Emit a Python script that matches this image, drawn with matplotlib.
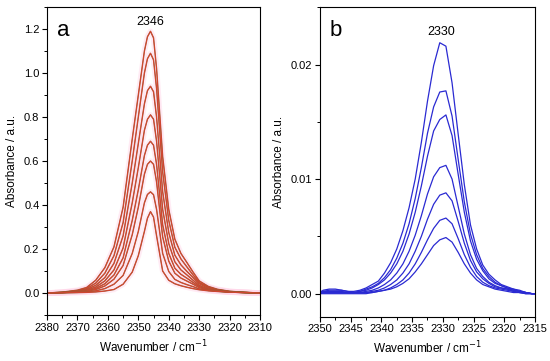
#!/usr/bin/env python3
"""CO2 stretch band spectra: (a) 2346 band, (b) 2330 band."""

import matplotlib
matplotlib.use("Agg")
import matplotlib.pyplot as plt
from matplotlib.ticker import MultipleLocator, FormatStrFormatter

plt.rcParams["font.family"] = ["Liberation Sans", "DejaVu Sans"]

# ---- panel a data ----
wn_a = [2380, 2375, 2370, 2367, 2364, 2361, 2358, 2355, 2352, 2350, 2348, 2347,
        2346, 2345, 2344, 2342, 2340, 2338, 2336, 2334, 2332, 2330, 2327, 2324,
        2320, 2315, 2310]
abs_a1 = [0, .004, .013, .025, .058, .115, .210, .390, .700, .900, 1.100, 1.165,
          1.190, 1.160, 1.020, .620, .380, .245, .180, .138, .095, .055, .030, .017,
          .008, .003, 0]
abs_a2 = [0, .003, .010, .020, .045, .090, .170, .320, .600, .800, 1.000, 1.065,
          1.090, 1.060, .930, .550, .330, .208, .155, .118, .082, .048, .026, .015,
          .007, .003, 0]
abs_a3 = [0, .003, .008, .016, .035, .070, .135, .260, .500, .680, .860, .920,
          .940, .915, .800, .460, .275, .172, .128, .098, .070, .042, .023, .013,
          .006, .002, 0]
abs_a4 = [0, .002, .007, .013, .027, .055, .105, .205, .410, .570, .740, .790,
          .810, .790, .690, .380, .225, .142, .105, .082, .058, .035, .019, .011,
          .005, .002, 0]
abs_a5 = [0, .002, .006, .010, .021, .042, .082, .160, .330, .470, .625, .672,
          .690, .672, .585, .310, .180, .113, .085, .067, .048, .030, .016, .010,
          .005, .002, 0]
abs_a6 = [0, .002, .005, .008, .016, .032, .063, .125, .265, .390, .540, .585,
          .600, .585, .505, .255, .145, .090, .068, .054, .040, .025, .014, .009,
          .004, .002, 0]
abs_a7 = [0, .001, .003, .005, .010, .020, .040, .080, .180, .280, .410, .448,
          .460, .447, .380, .180, .098, .062, .048, .038, .029, .019, .012, .008,
          .004, .002, 0]
abs_a8 = [0, .001, .002, .003, .005, .009, .016, .040, .095, .170, .280, .340,
          .370, .345, .260, .100, .058, .042, .033, .026, .020, .015, .010, .007,
          .004, .002, 0]
series_a = [abs_a1, abs_a2, abs_a3, abs_a4, abs_a5, abs_a6, abs_a7, abs_a8]

# ---- panel b data ----
wn_b = [2350, 2349.5, 2348.5, 2347.5, 2346.5, 2345.5, 2344.5, 2343.5, 2342.5,
        2341.5, 2340.5, 2339.5, 2338.5, 2337.5, 2336.5, 2335.5, 2334.5, 2333.5,
        2332.5, 2331.5, 2330.5, 2329.5, 2328.5, 2327.5, 2326.5, 2325.5, 2324.5,
        2323.5, 2322.5, 2321.5, 2320.5, 2319.5, 2318.5, 2317.5, 2316.5, 2315.5, 2315]
abs_b1 = [.0002, .0002, .0003, .0003, .0003, .0002, .0002, .0003, .0005,
          .0008, .0011, .0018, .0027, .0039, .0055, .0075, .0100, .0132,
          .0168, .0199, .0219, .0216, .0184, .0139, .0095, .0060, .0039,
          .0025, .0017, .0012, .0008, .0006, .0004, .0003, .0001, 0, 0]
abs_b2 = [.0002, .0002, .0002, .0002, .0002, .0001, .0001, .0002, .0004,
          .0006, .0009, .0014, .0021, .0031, .0044, .0061, .0083, .0110,
          .0140, .0163, .0176, .0177, .0155, .0117, .0080, .0052, .0034,
          .0022, .0015, .0010, .0007, .0005, .0004, .0002, .0001, 0, 0]
abs_b3 = [.0001, .0001, .0001, .0001, .0001, .0001, .0001, .0002, .0003,
          .0005, .0008, .0012, .0018, .0026, .0037, .0052, .0071, .0094,
          .0120, .0142, .0152, .0156, .0138, .0104, .0071, .0046, .0030,
          .0020, .0013, .0009, .0007, .0005, .0003, .0002, .0001, 0, 0]
abs_b4 = [.0001, .0001, .0001, .0001, .0001, .0001, .0001, .0001, .0002,
          .0003, .0005, .0008, .0012, .0018, .0026, .0037, .0051, .0068,
          .0087, .0102, .0110, .0112, .0100, .0076, .0052, .0034, .0022,
          .0015, .0010, .0007, .0005, .0004, .0003, .0002, .0001, 0, 0]
abs_b5 = [0, .0001, .0001, .0001, .0001, .0001, .0001, .0001, .0001,
          .0002, .0003, .0005, .0008, .0012, .0018, .0026, .0037, .0050,
          .0065, .0078, .0086, .0088, .0081, .0063, .0044, .0029, .0019,
          .0013, .0009, .0006, .0005, .0004, .0002, .0001, .0001, 0, 0]
abs_b6 = [0, 0, 0, 0, 0, 0, 0, 0, 0,
          .0001, .0002, .0003, .0005, .0008, .0012, .0018, .0026, .0036,
          .0047, .0057, .0064, .0066, .0061, .0048, .0034, .0023, .0015,
          .0010, .0007, .0005, .0004, .0003, .0002, .0001, 0, 0, 0]
abs_b7 = [0, .0003, .0004, .0004, .0003, .0002, .0001, .0001, .0001,
          .0001, .0002, .0003, .0004, .0006, .0009, .0013, .0019, .0026,
          .0034, .0042, .0047, .0049, .0045, .0036, .0026, .0018, .0012,
          .0008, .0006, .0004, .0003, .0002, .0001, .0001, 0, 0, 0]
series_b = [abs_b1, abs_b2, abs_b3, abs_b4, abs_b5, abs_b6, abs_b7]


def style_axis(ax, xlim, ylim, xmaj, xmin, ymaj, ymin, yfmt):
    ax.set_xlim(*xlim)
    ax.set_ylim(*ylim)
    ax.xaxis.set_major_locator(MultipleLocator(xmaj))
    ax.xaxis.set_minor_locator(MultipleLocator(xmin))
    ax.yaxis.set_major_locator(MultipleLocator(ymaj))
    ax.yaxis.set_minor_locator(MultipleLocator(ymin))
    ax.yaxis.set_major_formatter(FormatStrFormatter(yfmt))
    ax.tick_params(which="major", direction="out", length=3.5, width=0.8,
                   labelsize=8, pad=2)
    ax.tick_params(which="minor", direction="out", length=2, width=0.7)
    for sp in ax.spines.values():
        sp.set_linewidth(0.8)
    ax.set_xlabel("Wavenumber / cm$^{-1}$", fontsize=8.5, labelpad=4)
    ax.set_ylabel("Absorbance / a.u.", fontsize=8.5, labelpad=4)


fig = plt.figure(figsize=(5.5, 3.61), dpi=100)
ax_a = fig.add_axes([0.0855, 0.1274, 0.3873, 0.853])
ax_b = fig.add_axes([0.5818, 0.1230, 0.3909, 0.857])

# panel a: pink halo, brown outline, red core
for ys in series_a:
    ax_a.plot(wn_a, ys, color="#ffd8ea", lw=4.0, alpha=0.5, solid_capstyle="round")
for ys in series_a:
    ax_a.plot(wn_a, ys, color="#9a5a30", lw=1.0)
    ax_a.plot(wn_a, ys, color="#f03a30", lw=0.45)
style_axis(ax_a, (2380, 2310), (-0.1, 1.3), 10, 5, 0.2, 0.1, "%.1f")
ax_a.text(0.045, 0.925, "a", transform=ax_a.transAxes, fontsize=16,
          ha="left", va="center")
ax_a.text(2346, 1.233, "2346", fontsize=9, ha="center", va="center")

# panel b
for ys in series_b:
    ax_b.plot(wn_b, ys, color="#2a2ad2", lw=0.9)
style_axis(ax_b, (2350, 2315), (-0.002, 0.025), 5, 2.5, 0.01, 0.005, "%.2f")
ax_b.text(0.045, 0.925, "b", transform=ax_b.transAxes, fontsize=16,
          ha="left", va="center")
ax_b.text(2330.3, 0.0228, "2330", fontsize=9, ha="center", va="center")

fig.savefig("out.png", dpi=100)
